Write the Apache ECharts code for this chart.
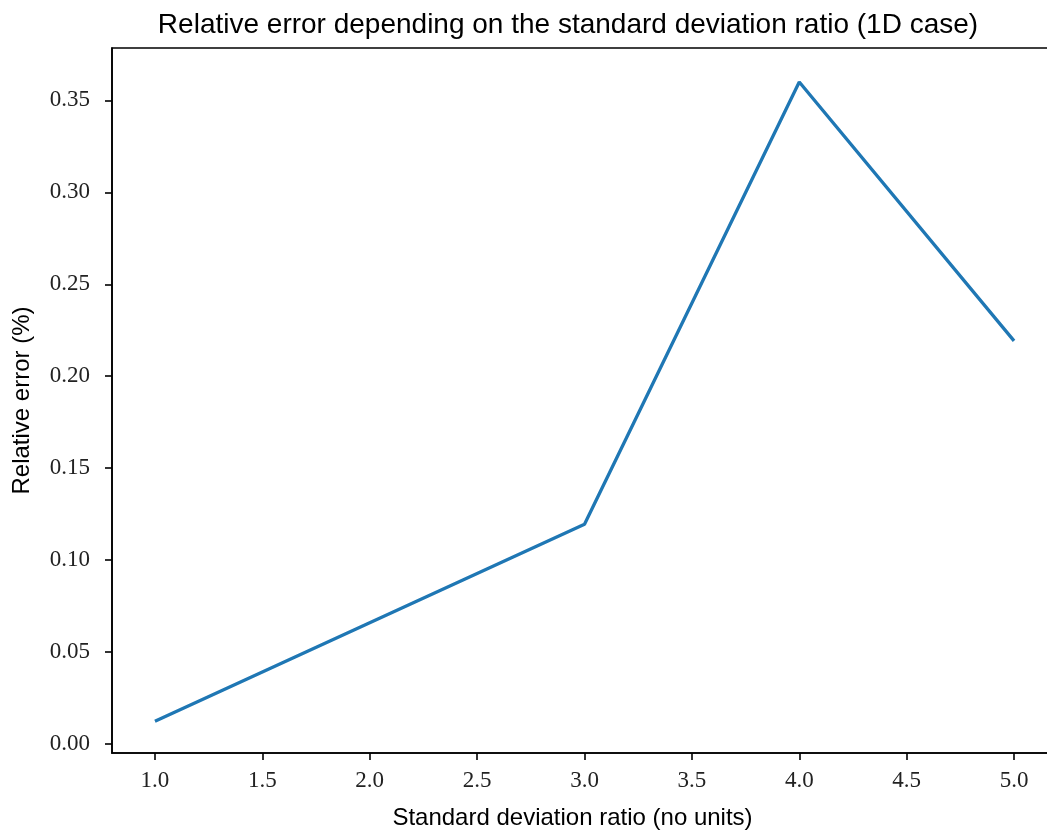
<!DOCTYPE html>
<html>
<head>
<meta charset="utf-8">
<script src="https://cdn.jsdelivr.net/npm/echarts@6/dist/echarts.min.js"></script>
<style>html,body{margin:0;padding:0;background:#fff}#c{width:1047px;height:836px}</style>
</head>
<body>
<div id="c"></div>
<script>
const xValues = [1, 2, 3, 4, 5];
const yValues = [0.0123, 0.066, 0.1195, 0.3600, 0.2192];
const xTicks = [1.0, 1.5, 2.0, 2.5, 3.0, 3.5, 4.0, 4.5, 5.0];
const yTicks = [0.00, 0.05, 0.10, 0.15, 0.20, 0.25, 0.30, 0.35];
const titleText = 'Relative error depending on the standard deviation ratio (1D case)';
const xName = 'Standard deviation ratio (no units)';
const yName = 'Relative error (%)';

const chart = echarts.init(document.getElementById('c'));
const sans = 'Liberation Sans';
const serif = 'Liberation Serif';
chart.setOption({
  animation: false,
  title: {
    text: titleText, left: 563, top: 6, textAlign: 'center',
    textStyle: {fontFamily: sans, fontWeight: 'normal', fontSize: 28, color: '#000'}
  },
  grid: {left: 112, top: 48, right: -10, bottom: 83, outerBoundsMode: 'none', containLabel: false,
         show: true, borderColor: '#000', borderWidth: 1.6, backgroundColor: 'transparent'},
  xAxis: {
    type: 'value', min: 0.8, max: 5.2,
    name: xName, nameLocation: 'middle', nameGap: 53,
    nameTextStyle: {fontFamily: sans, fontSize: 24, color: '#000', padding: [0, 24, 0, 0]},
    axisLine: {show: true, onZero: false, lineStyle: {color: '#000', width: 1.6}},
    axisTick: {show: true, length: 7, lineStyle: {color: '#000', width: 1.6}, customValues: xTicks},
    axisLabel: {customValues: xTicks, formatter: v => v.toFixed(1), fontFamily: serif, fontSize: 23, color: '#222', margin: 16},
    splitLine: {show: false}
  },
  yAxis: {
    type: 'value', min: -0.0049, max: 0.3785,
    name: yName, nameLocation: 'middle', nameGap: 78, nameRotate: 90,
    nameTextStyle: {fontFamily: sans, fontSize: 24, color: '#000'},
    axisLine: {show: true, onZero: false, lineStyle: {color: '#000', width: 1.6}},
    axisTick: {show: true, length: 7, lineStyle: {color: '#000', width: 1.6}, customValues: yTicks},
    axisLabel: {customValues: yTicks, formatter: v => v.toFixed(2), fontFamily: serif, fontSize: 23, color: '#222', margin: 22},
    splitLine: {show: false}
  },
  series: [{
    type: 'line',
    data: xValues.map((x, i) => [x, yValues[i]]),
    showSymbol: false,
    lineStyle: {color: '#1f77b4', width: 3.3},
    itemStyle: {color: '#1f77b4'}
  }]
});
</script>
</body>
</html>
